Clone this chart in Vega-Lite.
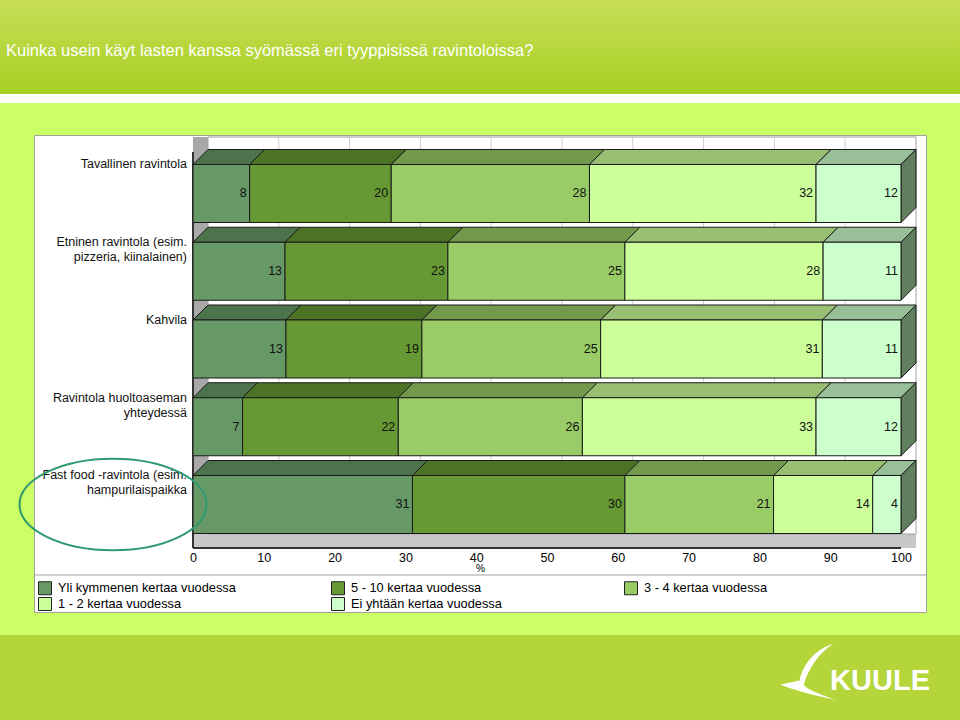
{
  "$schema": "https://vega.github.io/schema/vega-lite/v6.json",
  "background": "#ccff66",
  "autosize": {"type": "none"},
  "padding": {"left": 34, "top": 135, "right": 34, "bottom": 108},
  "width": 892,
  "height": 477,
  "view": {"fill": "white", "stroke": "#a0a0a0"},
  "config": {"font": "Liberation Sans"},
  "datasets": {
    "ravintolat": [
      {"ravintola": "Tavallinen ravintola", "Yli kymmenen kertaa vuodessa": 8, "5 - 10 kertaa vuodessa": 20, "3 - 4 kertaa vuodessa": 28, "1 - 2 kertaa vuodessa": 32, "Ei yhtään kertaa vuodessa": 12},
      {"ravintola": "Etninen ravintola (esim.\npizzeria, kiinalainen)", "Yli kymmenen kertaa vuodessa": 13, "5 - 10 kertaa vuodessa": 23, "3 - 4 kertaa vuodessa": 25, "1 - 2 kertaa vuodessa": 28, "Ei yhtään kertaa vuodessa": 11},
      {"ravintola": "Kahvila", "Yli kymmenen kertaa vuodessa": 13, "5 - 10 kertaa vuodessa": 19, "3 - 4 kertaa vuodessa": 25, "1 - 2 kertaa vuodessa": 31, "Ei yhtään kertaa vuodessa": 11},
      {"ravintola": "Ravintola huoltoaseman\nyhteydessä", "Yli kymmenen kertaa vuodessa": 7, "5 - 10 kertaa vuodessa": 22, "3 - 4 kertaa vuodessa": 26, "1 - 2 kertaa vuodessa": 33, "Ei yhtään kertaa vuodessa": 12},
      {"ravintola": "Fast food -ravintola (esim.\nhampurilaispaikka", "Yli kymmenen kertaa vuodessa": 31, "5 - 10 kertaa vuodessa": 30, "3 - 4 kertaa vuodessa": 21, "1 - 2 kertaa vuodessa": 14, "Ei yhtään kertaa vuodessa": 4}
    ],
    "ruudukko": [{"arvo": 0.1}, {"arvo": 0.2}, {"arvo": 0.3}, {"arvo": 0.4}, {"arvo": 0.5}, {"arvo": 0.6}, {"arvo": 0.7}, {"arvo": 0.8}, {"arvo": 0.9}]
  },
  "layer": [
    {
      "data": {"values": [{}]},
      "mark": {"type": "rect", "fill": {"gradient": "linear", "x1": 0, "y1": 0, "x2": 0, "y2": 1, "stops": [{"offset": 0, "color": "#c8df58"}, {"offset": 1, "color": "#a6cf22"}]}},
      "encoding": {
        "x": {"datum": -0.2726, "type": "quantitative", "scale": {"domain": [-0.22458, 1.03531], "nice": false, "zero": false}},
        "x2": {"datum": 1.08333},
        "y": {"datum": -1.48874, "type": "quantitative", "scale": {"domain": [0.24759, 6.38264], "nice": false, "zero": false, "reverse": true}, "axis": null},
        "y2": {"datum": -0.27974}
      }
    },
    {
      "data": {"values": [{}]},
      "mark": {"type": "rect", "fill": "white"},
      "encoding": {
        "x": {"datum": -0.2726, "type": "quantitative", "scale": {"domain": [-0.22458, 1.03531], "nice": false, "zero": false}},
        "x2": {"datum": 1.08333},
        "y": {"datum": -0.27974, "type": "quantitative", "scale": {"domain": [0.24759, 6.38264], "nice": false, "zero": false, "reverse": true}, "axis": null},
        "y2": {"datum": -0.16399}
      }
    },
    {
      "data": {"values": [{}]},
      "mark": {"type": "rect", "fill": "#b5d63a"},
      "encoding": {
        "x": {"datum": -0.2726, "type": "quantitative", "scale": {"domain": [-0.22458, 1.03531], "nice": false, "zero": false}},
        "x2": {"datum": 1.08333},
        "y": {"datum": 6.67845, "type": "quantitative", "scale": {"domain": [0.24759, 6.38264], "nice": false, "zero": false, "reverse": true}, "axis": null},
        "y2": {"datum": 7.7717}
      }
    },
    {
      "data": {"values": [{}]},
      "mark": {"type": "rect", "fill": "#a8a8a8"},
      "encoding": {
        "x": {"datum": 0, "type": "quantitative", "scale": {"domain": [-0.22458, 1.03531], "nice": false, "zero": false}},
        "x2": {"datum": 0.021186},
        "y": {"datum": 0.27331, "type": "quantitative", "scale": {"domain": [0.24759, 6.38264], "nice": false, "zero": false, "reverse": true}, "axis": null},
        "y2": {"datum": 5.55949}
      }
    },
    {
      "data": {"values": [{}]},
      "mark": {"type": "rect", "fill": "#c8c8c8"},
      "encoding": {
        "x": {"datum": 0, "type": "quantitative", "scale": {"domain": [-0.22458, 1.03531], "nice": false, "zero": false}},
        "x2": {"datum": 1.021186},
        "y": {"datum": 5.37942, "type": "quantitative", "scale": {"domain": [0.24759, 6.38264], "nice": false, "zero": false, "reverse": true}, "axis": null},
        "y2": {"datum": 5.55949}
      }
    },
    {
      "data": {"values": [{}]},
      "mark": {"type": "rect", "filled": false, "fill": null, "stroke": "#a0a0a0", "strokeWidth": 1},
      "encoding": {
        "x": {"datum": 0.021186, "type": "quantitative", "scale": {"domain": [-0.22458, 1.03531], "nice": false, "zero": false}},
        "x2": {"datum": 1.021186},
        "y": {"datum": 0.27331, "type": "quantitative", "scale": {"domain": [0.24759, 6.38264], "nice": false, "zero": false, "reverse": true}, "axis": null},
        "y2": {"datum": 5.37942}
      }
    },
    {
      "data": {"name": "ruudukko"},
      "mark": {"type": "rule", "stroke": "#cccccc", "strokeWidth": 1, "xOffset": 15},
      "encoding": {
        "x": {"field": "arvo", "type": "quantitative", "scale": {"domain": [-0.22458, 1.03531], "nice": false, "zero": false}},
        "y": {"datum": 0.27331, "type": "quantitative", "scale": {"domain": [0.24759, 6.38264], "nice": false, "zero": false, "reverse": true}, "axis": null},
        "y2": {"datum": 5.37942}
      }
    },
    {
      "data": {"values": [{}]},
      "mark": {"type": "rule", "stroke": "#333333", "strokeWidth": 2},
      "encoding": {
        "x": {"datum": 0, "type": "quantitative", "scale": {"domain": [-0.22458, 1.03531], "nice": false, "zero": false}},
        "y": {"datum": 0.46624, "type": "quantitative", "scale": {"domain": [0.24759, 6.38264], "nice": false, "zero": false, "reverse": true}, "axis": null},
        "y2": {"datum": 5.55949}
      }
    },
    {
      "data": {"values": [{}]},
      "mark": {"type": "rule", "stroke": "#a0a0a0", "strokeWidth": 1},
      "encoding": {
        "x": {"datum": -0.22458, "type": "quantitative", "scale": {"domain": [-0.22458, 1.03531], "nice": false, "zero": false}},
        "x2": {"datum": 1.03531},
        "y": {"datum": 5.90672, "type": "quantitative", "scale": {"domain": [0.24759, 6.38264], "nice": false, "zero": false, "reverse": true}, "axis": null}
      }
    },
    {
      "data": {"name": "ravintolat"},
      "transform": [
        {"window": [{"op": "row_number", "as": "rivi"}]},
        {"fold": ["Yli kymmenen kertaa vuodessa", "5 - 10 kertaa vuodessa", "3 - 4 kertaa vuodessa", "1 - 2 kertaa vuodessa", "Ei yhtään kertaa vuodessa"], "as": ["tiheys", "osuus"]},
        {"window": [{"op": "row_number", "as": "jarj"}], "groupby": ["ravintola"]},
        {"stack": "osuus", "groupby": ["ravintola"], "sort": [{"field": "jarj", "order": "ascending"}], "offset": "normalize", "as": ["s0", "s1"]},
        {"fold": ["s0", "s1"], "as": ["reuna", "sx"]},
        {"calculate": "datum.reuna == 's1' ? 1 : 0", "as": "lv"},
        {"calculate": "datum.s0 + datum.lv * 0.021186", "as": "xa"},
        {"calculate": "datum.s1 + datum.lv * 0.021186", "as": "xb"},
        {"calculate": "datum.rivi - 0.373 - datum.lv * 0.19293", "as": "yy"}
      ],
      "mark": {"type": "area", "orient": "horizontal", "stroke": "#1a1a1a", "strokeWidth": 1, "strokeJoin": "miter"},
      "encoding": {
        "y": {"field": "yy", "type": "quantitative", "scale": {"domain": [0.24759, 6.38264], "nice": false, "zero": false, "reverse": true}, "axis": null},
        "x": {"field": "xa", "type": "quantitative", "stack": null, "scale": {"domain": [-0.22458, 1.03531], "nice": false, "zero": false}},
        "x2": {"field": "xb"},
        "fill": {"field": "jarj", "type": "ordinal", "scale": {"domain": [1, 2, 3, 4, 5], "range": ["#4d734d", "#4d7326", "#73994d", "#99bf73", "#99bf99"]}, "legend": null},
        "detail": {"field": "ravintola", "type": "nominal"}
      }
    },
    {
      "data": {"name": "ravintolat"},
      "transform": [
        {"window": [{"op": "row_number", "as": "rivi"}]},
        {"fold": ["Ei yhtään kertaa vuodessa"], "as": ["tiheys", "osuus"]},
        {"fold": ["rivi", "osuus"], "as": ["reuna", "sx"]},
        {"calculate": "datum.reuna == 'osuus' ? 1 : 0", "as": "lv"},
        {"calculate": "1 + datum.lv * 0.021186", "as": "xs"},
        {"calculate": "datum.rivi - 0.373 - datum.lv * 0.19293", "as": "ys1"},
        {"calculate": "datum.rivi + 0.373 - datum.lv * 0.19293", "as": "ys2"}
      ],
      "mark": {"type": "area", "orient": "vertical", "fill": "#5f7f5f", "stroke": "#1a1a1a", "strokeWidth": 1},
      "encoding": {
        "x": {"field": "xs", "type": "quantitative", "scale": {"domain": [-0.22458, 1.03531], "nice": false, "zero": false}},
        "y": {"field": "ys1", "type": "quantitative", "stack": null, "scale": {"domain": [0.24759, 6.38264], "nice": false, "zero": false, "reverse": true}, "axis": null},
        "y2": {"field": "ys2"},
        "detail": {"field": "ravintola", "type": "nominal"}
      }
    },
    {
      "data": {"name": "ravintolat"},
      "transform": [
        {"window": [{"op": "row_number", "as": "rivi"}]},
        {"fold": ["Yli kymmenen kertaa vuodessa", "5 - 10 kertaa vuodessa", "3 - 4 kertaa vuodessa", "1 - 2 kertaa vuodessa", "Ei yhtään kertaa vuodessa"], "as": ["tiheys", "osuus"]},
        {"window": [{"op": "row_number", "as": "jarj"}], "groupby": ["ravintola"]},
        {"stack": "osuus", "groupby": ["ravintola"], "sort": [{"field": "jarj", "order": "ascending"}], "offset": "normalize", "as": ["s0", "s1"]},
        {"calculate": "datum.rivi - 0.373", "as": "ya"},
        {"calculate": "datum.rivi + 0.373", "as": "yb"}
      ],
      "mark": {"type": "rect", "stroke": "#1a1a1a", "strokeWidth": 1},
      "encoding": {
        "x": {"field": "s0", "type": "quantitative", "scale": {"domain": [-0.22458, 1.03531], "nice": false, "zero": false},
          "axis": {"orient": "bottom", "offset": -64, "values": [0, 0.1, 0.2, 0.3, 0.4, 0.5, 0.6, 0.7, 0.8, 0.9, 1], "labelExpr": "format(datum.value * 100, 'd')", "ticks": false, "grid": false, "domain": false, "labelPadding": 3, "labelFontSize": 12.5, "labelFont": "Liberation Sans", "labelColor": "black", "labelFlush": false, "labelOverlap": false, "title": "%", "titleFontSize": 10, "titleFontWeight": "normal", "titleFont": "Liberation Sans", "titleColor": "black", "titlePadding": 0}},
        "x2": {"field": "s1"},
        "y": {"field": "ya", "type": "quantitative", "scale": {"domain": [0.24759, 6.38264], "nice": false, "zero": false, "reverse": true}, "axis": null},
        "y2": {"field": "yb"},
        "color": {"field": "tiheys", "type": "nominal",
          "scale": {"domain": ["Yli kymmenen kertaa vuodessa", "5 - 10 kertaa vuodessa", "3 - 4 kertaa vuodessa", "1 - 2 kertaa vuodessa", "Ei yhtään kertaa vuodessa"], "range": ["#669966", "#669933", "#99cc66", "#ccff99", "#ccffcc"]},
          "legend": {"orient": "none", "legendX": 4, "legendY": 446, "direction": "horizontal", "columns": 3, "gridAlign": "all", "columnPadding": 93, "rowPadding": -3, "title": null, "symbolType": "square", "symbolSize": 169, "symbolStrokeColor": "#222222", "symbolStrokeWidth": 1, "labelFontSize": 12.8, "labelFont": "Liberation Sans", "labelColor": "black", "labelLimit": 400, "labelOffset": 6}}
      }
    },
    {
      "data": {"values": [{}]},
      "mark": {"type": "rule", "stroke": "#333333", "strokeWidth": 2},
      "encoding": {
        "x": {"datum": 0, "type": "quantitative", "scale": {"domain": [-0.22458, 1.03531], "nice": false, "zero": false}},
        "x2": {"datum": 1},
        "y": {"datum": 5.55949, "type": "quantitative", "scale": {"domain": [0.24759, 6.38264], "nice": false, "zero": false, "reverse": true}, "axis": null}
      }
    },
    {
      "data": {"name": "ravintolat"},
      "transform": [
        {"window": [{"op": "row_number", "as": "rivi"}]},
        {"fold": ["Yli kymmenen kertaa vuodessa", "5 - 10 kertaa vuodessa", "3 - 4 kertaa vuodessa", "1 - 2 kertaa vuodessa", "Ei yhtään kertaa vuodessa"], "as": ["tiheys", "osuus"]},
        {"window": [{"op": "row_number", "as": "jarj"}], "groupby": ["ravintola"]},
        {"stack": "osuus", "groupby": ["ravintola"], "sort": [{"field": "jarj", "order": "ascending"}], "offset": "normalize", "as": ["s0", "s1"]}
      ],
      "mark": {"type": "text", "align": "right", "baseline": "middle", "dx": -3, "fontSize": 12.5, "font": "Liberation Sans", "color": "#111111"},
      "encoding": {
        "x": {"field": "s1", "type": "quantitative", "scale": {"domain": [-0.22458, 1.03531], "nice": false, "zero": false}},
        "y": {"field": "rivi", "type": "quantitative", "scale": {"domain": [0.24759, 6.38264], "nice": false, "zero": false, "reverse": true}, "axis": null},
        "text": {"field": "osuus", "type": "quantitative"}
      }
    },
    {
      "data": {"name": "ravintolat"},
      "transform": [
        {"window": [{"op": "row_number", "as": "rivi"}]},
        {"calculate": "datum.rivi - 0.373", "as": "ya"}
      ],
      "mark": {"type": "text", "align": "right", "baseline": "top", "dx": -6, "dy": -6, "fontSize": 12.5, "font": "Liberation Sans", "color": "#111111", "lineBreak": "\n", "lineHeight": 15},
      "encoding": {
        "x": {"datum": 0, "type": "quantitative", "scale": {"domain": [-0.22458, 1.03531], "nice": false, "zero": false}},
        "y": {"field": "ya", "type": "quantitative", "scale": {"domain": [0.24759, 6.38264], "nice": false, "zero": false, "reverse": true}, "axis": null},
        "text": {"field": "ravintola", "type": "nominal"}
      }
    },
    {
      "data": {"name": "ravintolat"},
      "transform": [
        {"window": [{"op": "row_number", "as": "rivi"}]},
        {"filter": "indexof(datum.ravintola, 'Fast food') == 0"}
      ],
      "mark": {"type": "point", "shape": "M -1 0 A 1 0.49 0 1 1 1 0 A 1 0.49 0 1 1 -1 0 Z", "size": 34969, "filled": false, "color": "#2e9a6e", "strokeWidth": 2, "opacity": 1},
      "encoding": {
        "x": {"datum": -0.11299, "type": "quantitative", "scale": {"domain": [-0.22458, 1.03531], "nice": false, "zero": false}},
        "y": {"field": "rivi", "type": "quantitative", "scale": {"domain": [0.24759, 6.38264], "nice": false, "zero": false, "reverse": true}, "axis": null}
      }
    },
    {
      "data": {"values": [{}]},
      "mark": {"type": "text", "text": "Kuinka usein käyt lasten kanssa syömässä eri tyyppisissä ravintoloissa?", "align": "left", "baseline": "alphabetic", "font": "Liberation Sans", "fontSize": 16.5, "color": "white"},
      "encoding": {
        "x": {"datum": -0.26412, "type": "quantitative", "scale": {"domain": [-0.22458, 1.03531], "nice": false, "zero": false}},
        "y": {"datum": -0.76849, "type": "quantitative", "scale": {"domain": [0.24759, 6.38264], "nice": false, "zero": false, "reverse": true}, "axis": null}
      }
    },
    {
      "data": {"values": [{}]},
      "mark": {"type": "text", "text": "KUULE", "align": "right", "baseline": "alphabetic", "font": "Liberation Sans", "fontSize": 29, "fontWeight": "bold", "color": "white"},
      "encoding": {
        "x": {"datum": 1.04096, "type": "quantitative", "scale": {"domain": [-0.22458, 1.03531], "nice": false, "zero": false}},
        "y": {"datum": 7.38593, "type": "quantitative", "scale": {"domain": [0.24759, 6.38264], "nice": false, "zero": false, "reverse": true}, "axis": null}
      }
    },
    {
      "data": {"values": [{}]},
      "mark": {"type": "point", "shape": "M 0.9 -1 C 0.2 -0.8 -0.2 -0.2 -0.3 0.3 C -0.5 0.35 -0.8 0.4 -1 0.45 C -0.6 0.6 0 0.8 1 1 C 0.3 0.75 -0.1 0.6 -0.15 0.45 C 0 -0.1 0.4 -0.7 0.9 -1 Z", "size": 3136, "filled": true, "color": "white", "opacity": 1},
      "encoding": {
        "x": {"datum": 0.86864, "type": "quantitative", "scale": {"domain": [-0.22458, 1.03531], "nice": false, "zero": false}},
        "y": {"datum": 7.15442, "type": "quantitative", "scale": {"domain": [0.24759, 6.38264], "nice": false, "zero": false, "reverse": true}, "axis": null}
      }
    }
  ]
}
